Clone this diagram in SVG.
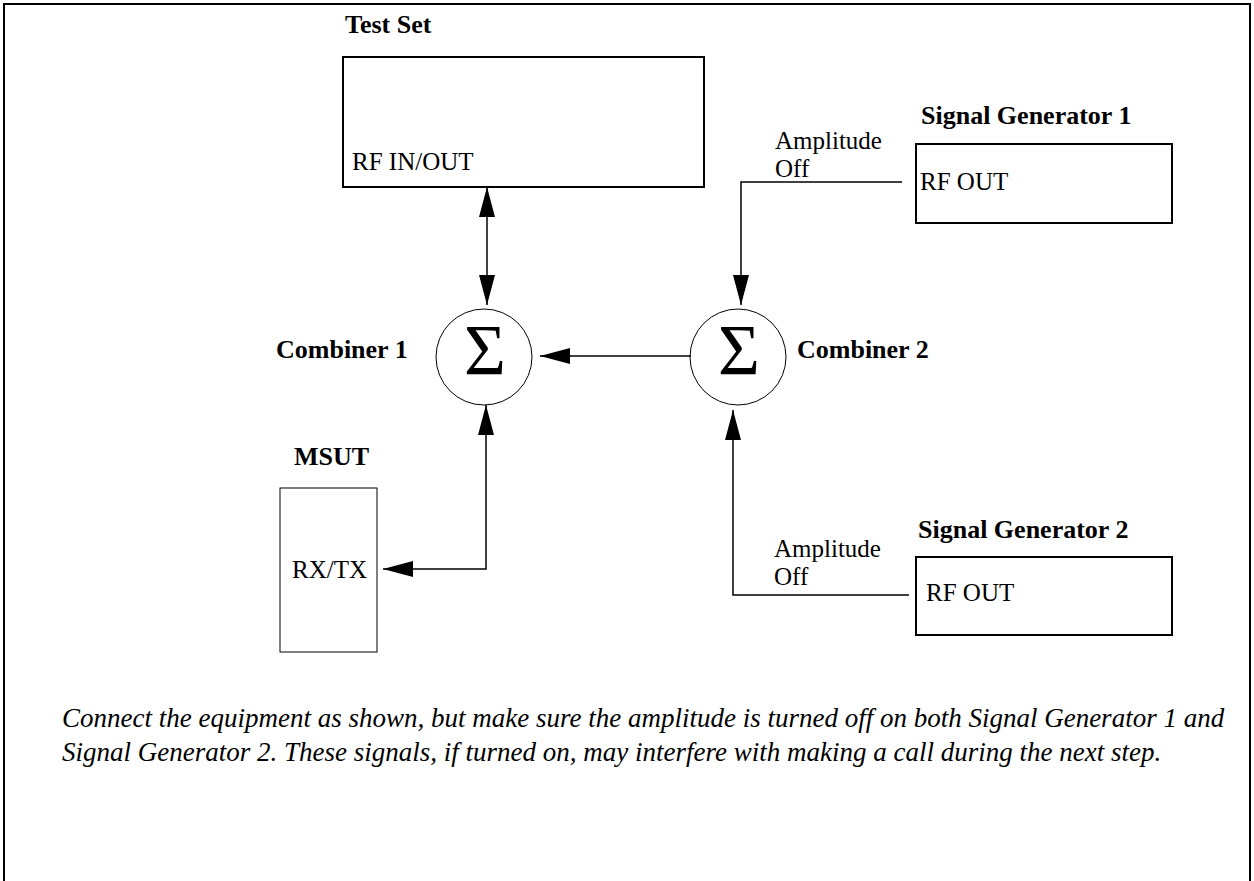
<svg xmlns="http://www.w3.org/2000/svg" width="1254" height="881" viewBox="0 0 1254 881">
<style>
.lbl{font-family:"Liberation Serif","Times New Roman",serif;font-size:26px;font-weight:bold;fill:#000}
.txt{font-family:"Liberation Serif","Times New Roman",serif;font-size:25px;fill:#000}
.note{font-family:"Liberation Serif","Times New Roman",serif;font-size:27px;font-style:italic;fill:#000}
.sig{font-family:"Liberation Serif","Times New Roman",serif;font-size:72px;fill:#000;text-anchor:middle}
.box{fill:#fff;stroke:#000;stroke-width:2}
.thin{fill:#fff;stroke:#000;stroke-width:1}
.con{fill:none;stroke:#000;stroke-width:1.5}
</style>
<defs>
<marker id="ah" markerUnits="userSpaceOnUse" viewBox="0 -8 30 16" refX="30" refY="0" markerWidth="30" markerHeight="16" orient="auto-start-reverse">
<path d="M0,-8 L30,0 L0,8 z" fill="#000"/>
</marker>
</defs>
<rect x="0" y="0" width="1254" height="881" fill="#fff"/>
<path d="M4,890 V4 H1250 V890" fill="none" stroke="#000" stroke-width="2"/>

<g id="test-set">
<text class="lbl" x="345" y="33">Test Set</text>
<rect class="box" x="343" y="57" width="361" height="130"/>
<text class="txt" x="352" y="170">RF IN/OUT</text>
</g>

<g id="signal-generator-1">
<text class="lbl" x="921" y="124">Signal Generator 1</text>
<rect class="box" x="916" y="144" width="256" height="79"/>
<text class="txt" x="920" y="190">RF OUT</text>
</g>

<g id="signal-generator-2">
<text class="lbl" x="918" y="538">Signal Generator 2</text>
<rect class="box" x="916" y="557" width="256" height="78"/>
<text class="txt" x="926" y="601">RF OUT</text>
</g>

<g id="combiner-1">
<circle class="thin" cx="484" cy="357" r="48"/>
<text class="sig" x="485" y="374">Σ</text>
<text class="lbl" x="276" y="358">Combiner 1</text>
</g>

<g id="combiner-2">
<circle class="thin" cx="738" cy="357" r="48"/>
<text class="sig" x="739" y="374">Σ</text>
<text class="lbl" x="797" y="358">Combiner 2</text>
</g>

<g id="msut">
<text class="lbl" x="294" y="465">MSUT</text>
<rect class="thin" x="280" y="488" width="97" height="164"/>
<text class="txt" x="292" y="578">RX/TX</text>
</g>

<g id="connectors">
<line class="con" x1="487" y1="187" x2="487" y2="305" marker-start="url(#ah)" marker-end="url(#ah)"/>
<line class="con" x1="691" y1="356" x2="540" y2="356" stroke-width="2" marker-end="url(#ah)"/>
<path class="con" d="M486,405 V569 H383" marker-start="url(#ah)" marker-end="url(#ah)"/>
<path class="con" d="M902,182 H741 V305" stroke-width="2" marker-end="url(#ah)"/>
<path class="con" d="M909,595 H733 V410" stroke-width="1" marker-end="url(#ah)"/>
<text class="txt" x="775" y="149">Amplitude</text>
<text class="txt" x="775" y="177">Off</text>
<text class="txt" x="774" y="557">Amplitude</text>
<text class="txt" x="774" y="585">Off</text>
</g>

<g id="note">
<text class="note" x="62" y="727">Connect the equipment as shown, but make sure the amplitude is turned off on both Signal Generator 1 and</text>
<text class="note" x="62" y="761">Signal Generator 2. These signals, if turned on, may interfere with making a call during the next step.</text>
</g>
</svg>
